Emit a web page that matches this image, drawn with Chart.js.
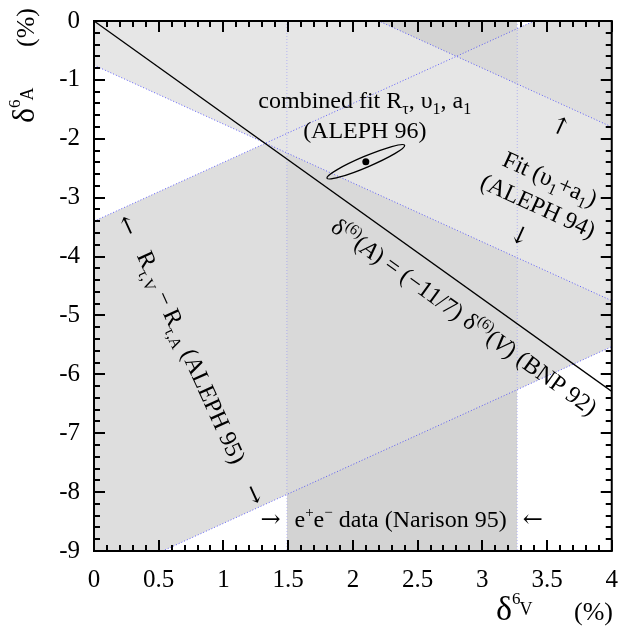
<!DOCTYPE html>
<html>
<head>
<meta charset="utf-8">
<script src="https://cdn.jsdelivr.net/npm/chart.js@4.4.1/dist/chart.umd.min.js"></script>
<style>
  html, body { margin: 0; padding: 0; background: #fff; }
</style>
</head>
<body>
<canvas id="chart" width="624" height="627"></canvas>
<script>
// tick labels
const xTicks = [0, 0.5, 1, 1.5, 2, 2.5, 3, 3.5, 4];
const yTicks = [0, -1, -2, -3, -4, -5, -6, -7, -8, -9];

// BNP 92 : delta6(A) = (-11/7) delta6(V)
const bnpV = [0, 4];
const bnpA = [0, -6.29];

// Fit (v1+a1) ALEPH 94, band edges
const fitV = [0, 4];
const fitUpper = [2.2, -1.8];
const fitLower = [-0.75, -4.75];

// R_tau,V - R_tau,A ALEPH 95, band edges
const alephV = [0, 4];
const alephUpper = [-3.4, 0.6];
const alephLower = [-9.53, -5.53];

// e+e- data Narison 95, vertical strip
const eeV = [1.49, 3.27];
const eeA = [0, -9];

// combined fit ALEPH 96 (centre + end of the major axis)
const comboCentre = [2.10, -2.39];
const comboTip = [2.40, -2.11];

const FONT = "'Liberation Serif', 'Times New Roman', serif";
const ARROW_FONT = "'DejaVu Serif', 'DejaVu Sans', serif";

function pts(xs, ys) {
    return xs.map((v, i) => ({ x: v, y: ys[i] }));
}
function font(size, italic) {
    return (italic ? 'italic ' : '') + size + 'px ' + FONT;
}

// texte avec indices / exposants
function rich(ctx, parts, x, y, angle, align) {
    ctx.save();
    ctx.translate(x, y);
    ctx.rotate(angle || 0);
    ctx.textBaseline = 'alphabetic';
    ctx.textAlign = 'left';
    ctx.fillStyle = '#000';
    let w = 0;
    for (const p of parts) { ctx.font = font(p.s || 24, p.i); w += ctx.measureText(p.t).width; }
    let cx = align === 'center' ? -w / 2 : 0;
    for (const p of parts) {
        ctx.font = font(p.s || 24, p.i);
        ctx.fillText(p.t, cx, p.dy || 0);
        cx += ctx.measureText(p.t).width + (p.gap || 0);
    }
    ctx.restore();
}
function arrow(ctx, t, x, y, angle) {
    ctx.save();
    ctx.translate(x, y);
    ctx.rotate(angle || 0);
    ctx.font = '24px ' + ARROW_FONT;
    ctx.textAlign = 'center';
    ctx.textBaseline = 'middle';
    ctx.fillStyle = '#000';
    ctx.fillText(t, 0, 0);
    ctx.restore();
}

const sub = t => ({ t: t, s: 16, dy: 6 });
const sup = t => ({ t: t, s: 15, dy: -10 });

const decor = {
    id: 'decor',
    afterDatasetsDraw(chart) {
        const { ctx, scales: { x, y } } = chart;
        const cx = x.getPixelForValue(comboCentre[0]), cy = y.getPixelForValue(comboCentre[1]);
        const tx = x.getPixelForValue(comboTip[0]), ty = y.getPixelForValue(comboTip[1]);
        ctx.save();
        ctx.setLineDash([]);
        ctx.beginPath();
        ctx.ellipse(cx, cy, Math.hypot(tx - cx, ty - cy), 5.5, Math.atan2(ty - cy, tx - cx), 0, Math.PI * 2);
        ctx.strokeStyle = '#000';
        ctx.lineWidth = 1.3;
        ctx.stroke();
        ctx.restore();
    },
    afterDraw(chart) {
        const ctx = chart.ctx;
        const area = chart.chartArea;
        const x = chart.scales.x, y = chart.scales.y;

        // graduations intérieures sur les 4 côtés
        ctx.save();
        ctx.fillStyle = '#000';
        for (let i = 0; i <= 40; i++) {
            const px = Math.round(x.getPixelForValue(i / 10));
            const len = (i % 5 === 0) ? 11 : 6;
            ctx.fillRect(px - 1, area.bottom - len, 2, len);
            ctx.fillRect(px - 1, area.top, 2, len);
        }
        for (let i = 0; i <= 45; i++) {
            const py = Math.round(y.getPixelForValue(-i / 5));
            const len = (i % 5 === 0) ? 11 : 6;
            ctx.fillRect(area.left, py - 1, len, 2);
            ctx.fillRect(area.right - len, py - 1, len, 2);
        }
        ctx.strokeStyle = '#000';
        ctx.lineWidth = 2;
        ctx.strokeRect(area.left, area.top, area.right - area.left, area.bottom - area.top);
        ctx.restore();

        const P = (v, w) => [x.getPixelForValue(v), y.getPixelForValue(w)];
        const ang = (vs, ws) => {
            const p0 = P(vs[0], ws[0]), p1 = P(vs[1], ws[1]);
            return Math.atan2(p1[1] - p0[1], p1[0] - p0[0]);
        };

        // combined fit
        let p = P(2.092, -1.48);
        rich(ctx, [{ t: 'combined fit R' }, sub('τ'), { t: ', υ' }, sub('1'), { t: ', a' }, sub('1')], p[0], p[1], 0, 'center');
        p = P(2.092, -1.99);
        rich(ctx, [{ t: '(ALEPH 96)' }], p[0], p[1], 0, 'center');

        // Fit ALEPH 94
        const fa = ang(fitV, fitUpper);
        p = P(3.499, -2.80);
        rich(ctx, [{ t: 'Fit (υ' }, sub('1'), { t: '+a' }, sub('1'), { t: ')' }], p[0], p[1], fa, 'center');
        p = P(3.407, -3.26);
        rich(ctx, [{ t: '(ALEPH 94)' }], p[0], p[1], fa, 'center');
        p = P(3.599, -1.817); arrow(ctx, '↑', p[0], p[1], fa);
        p = P(3.283, -3.668); arrow(ctx, '↓', p[0], p[1], fa);

        // BNP 92
        const ba = ang(bnpV, bnpA);
        p = P(1.819, -3.549);
        rich(ctx, [{ t: 'δ' }, sup('(6)'), { t: '(' }, { t: 'A', i: true }, { t: ') = (−11/7) δ' }, sup('(6)'),
                   { t: '(' }, { t: 'V', i: true }, { t: ') (BNP 92)' }], p[0], p[1], ba, 'left');

        // ALEPH 95
        const aa = ang(alephV, alephUpper) + Math.PI / 2;
        p = P(0.697, -5.765);
        rich(ctx, [{ t: 'R' }, sub('τ,V'), { t: ' − R' }, sub('τ,A'), { t: ' (ALEPH 95)' }], p[0], p[1], aa, 'center');
        p = P(0.247, -3.481); arrow(ctx, '←', p[0], p[1], aa);
        p = P(1.225, -8.049); arrow(ctx, '→', p[0], p[1], aa);

        // Narison 95
        p = P(1.364, -8.49); arrow(ctx, '→', p[0], p[1], 0);
        p = P(1.549, -8.592);
        rich(ctx, [{ t: 'e' }, sup('+'), { t: 'e' }, sup('−'), { t: ' data (Narison 95)' }], p[0], p[1], 0, 'left');
        p = P(3.391, -8.49); arrow(ctx, '←', p[0], p[1], 0);

        // axis titles
        rich(ctx, [{ t: 'δ', s: 34 }, { t: '6', s: 17, dy: -16, gap: -1 }, { t: 'V', s: 18, dy: -5 }], 496, 620, 0, 'left');
        rich(ctx, [{ t: '(%)', s: 26 }], 574, 620, 0, 'left');
        rich(ctx, [{ t: 'δ', s: 32 }, { t: '6', s: 17, dy: -14, gap: -1 }, { t: 'A', s: 18, dy: -1 }], 34, 123, -Math.PI / 2, 'left');
        rich(ctx, [{ t: '(%)', s: 26 }], 34, 47, -Math.PI / 2, 'left');
    }
};

const dotted = { borderColor: 'rgba(50,50,255,0.75)', borderWidth: 1, borderDash: [1, 2], pointRadius: 0, fill: false };
const edge = { borderColor: 'rgba(120,120,255,0.45)', borderWidth: 1, borderDash: [1, 2], pointRadius: 0, fill: false };

new Chart(document.getElementById('chart'), {
    type: 'line',
    data: {
        datasets: [
            { data: [{ x: comboCentre[0], y: comboCentre[1] }], showLine: false, pointRadius: 3.5,
              pointBackgroundColor: '#000', pointBorderWidth: 0, fill: false },
            { data: pts(bnpV, bnpA), borderColor: '#000', borderWidth: 1.3, pointRadius: 0, fill: false },
            { ...dotted, data: pts(fitV, fitUpper), fill: 3, backgroundColor: '#e6e6e6' },
            { ...dotted, data: pts(fitV, fitLower) },
            { ...dotted, data: pts(alephV, alephUpper), fill: 5, backgroundColor: 'rgba(218,218,218,0.89)' },
            { ...dotted, data: pts(alephV, alephLower) },
            { ...edge, data: [{ x: eeV[0], y: eeA[0] }, { x: eeV[0], y: eeA[1] }] },
            { ...edge, data: [{ x: eeV[1], y: eeA[0] }, { x: eeV[1], y: eeA[1] }] },
            { data: [{ x: eeV[0], y: eeA[0] }, { x: eeV[1], y: eeA[0] }], borderColor: 'rgba(0,0,0,0)', borderWidth: 0,
              pointRadius: 0, fill: { value: eeA[1] }, backgroundColor: '#d3d3d3' }
        ]
    },
    options: {
        responsive: false,
        animation: false,
        devicePixelRatio: 1,
        layout: { padding: { top: 21, right: 11, left: 0, bottom: 0 } },
        plugins: {
            legend: { display: false },
            tooltip: { enabled: false },
            filler: { drawTime: 'beforeDatasetsDraw' }
        },
        scales: {
            x: {
                type: 'linear', min: 0, max: 4,
                grid: { display: false },
                border: { display: false },
                afterBuildTicks: s => { s.ticks = xTicks.map(v => ({ value: v })); },
                afterFit: s => { s.height = 76; },
                ticks: { font: { family: FONT, size: 25 }, color: '#000', padding: 6, maxRotation: 0, autoSkip: false,
                         callback: v => String(v) }
            },
            y: {
                type: 'linear', min: -9, max: 0,
                grid: { display: false },
                border: { display: false },
                afterBuildTicks: s => { s.ticks = yTicks.map(v => ({ value: v })); },
                afterFit: s => { s.width = 94; },
                ticks: { font: { family: FONT, size: 25 }, color: '#000', padding: 6, autoSkip: false,
                         callback: v => String(v) }
            }
        }
    },
    plugins: [decor]
});
</script>
</body>
</html>
